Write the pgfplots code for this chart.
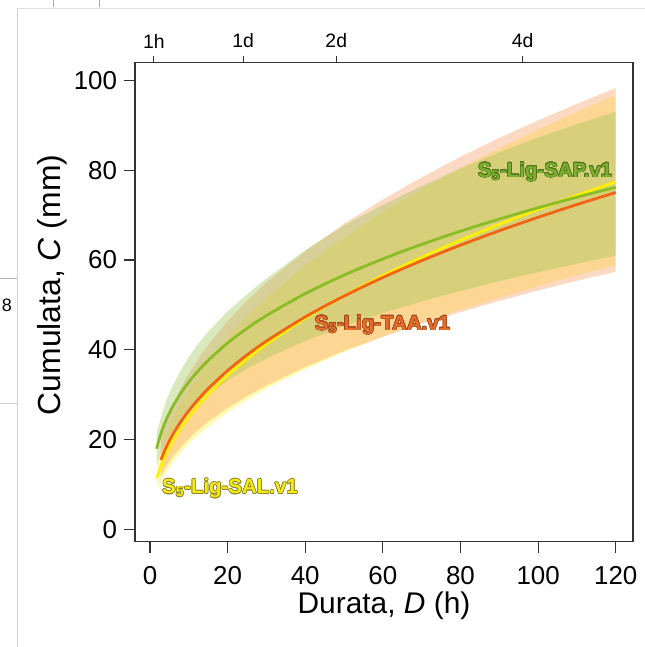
\documentclass[border=0pt]{standalone}
\usepackage{fontspec}
\setmainfont{Liberation Sans}
\usepackage{pgfplots}
\pgfplotsset{compat=1.18}
\usepackage{pgfplotstable}
\usepgfplotslibrary{fillbetween}
\usepackage{contour}
\contourlength{0.6pt}
\definecolor{axisgray}{RGB}{50,50,50}
\definecolor{gline}{RGB}{138,188,38}
\definecolor{oline}{RGB}{240,100,20}
\definecolor{yline}{RGB}{255,240,0}
\definecolor{gband}{RGB}{158,195,84}
\definecolor{oband}{RGB}{246,150,90}
\definecolor{yband}{RGB}{255,240,0}
\definecolor{gtext}{RGB}{125,175,45}
\definecolor{gout}{RGB}{75,115,30}
\definecolor{otext}{RGB}{230,110,40}
\definecolor{oout}{RGB}{160,70,30}
\definecolor{ytext}{RGB}{245,235,20}
\definecolor{yout}{RGB}{140,130,40}

\pgfplotstableread{
D m u l
1.7 18.00 21.1 14.4
2 19.02 22.3 15.2
3 21.83 25.5 17.5
4 24.06 28.2 19.2
5 25.95 30.4 20.8
6 27.61 32.3 22.1
8 30.44 35.6 24.4
10 32.83 38.4 26.3
12 34.92 40.9 27.9
15 37.66 44.1 30.1
20 41.52 48.6 33.2
25 44.79 52.4 35.8
30 47.64 55.9 38.1
40 52.52 62.2 42.0
50 56.65 67.7 45.3
60 60.26 72.3 48.2
70 63.49 76.5 50.8
80 66.43 80.4 53.1
90 69.14 84.0 55.3
100 71.65 87.3 57.3
110 74.01 90.3 59.2
120 76.22 93.0 61.0
}\sap

\pgfplotstableread{
D m u l
2.8 15.51 20.3 11.9
3 15.97 20.9 12.2
4 18.02 23.6 13.8
5 19.78 25.9 15.1
6 21.36 28.0 16.3
8 24.10 31.6 18.4
10 26.46 34.7 20.2
12 28.57 37.4 21.9
15 31.37 41.1 24.0
20 35.40 46.4 27.1
25 38.87 50.9 29.7
30 41.96 55.0 32.1
40 47.35 62.0 36.2
50 51.99 68.1 39.8
60 56.12 73.5 42.9
70 59.87 78.4 45.8
80 63.32 83.0 48.4
90 66.53 87.2 50.9
100 69.53 91.1 53.2
110 72.37 94.8 55.4
120 75.06 98.3 57.4
}\taa

\pgfplotstableread{
D m u l
1.9 11.80 14.8 9.0
2 12.08 15.1 9.2
3 14.52 18.2 11.0
4 16.54 20.7 12.6
5 18.31 22.9 13.9
6 19.88 24.9 15.1
8 22.66 28.3 17.2
10 25.07 31.3 19.1
12 27.23 34.0 20.7
15 30.14 37.7 22.9
20 34.33 42.9 26.1
25 37.99 47.5 28.9
30 41.27 51.6 31.4
40 47.03 58.8 35.7
50 52.03 65.0 39.5
60 56.52 70.7 43.0
70 60.61 75.8 46.1
80 64.40 80.5 48.9
90 67.94 84.9 51.6
100 71.27 89.1 54.2
110 74.41 93.0 56.6
120 77.41 96.8 58.8
}\sal

\begin{document}
\begin{tikzpicture}
\begin{axis}[
  scale only axis, width=498bp, height=479bp,
  xmin=-3.865, xmax=124.45, ymin=-2.72, ymax=103.96,
  axis on top,
  xtick={0,20,40,60,80,100,120}, ytick={0,20,40,60,80,100},
  xtick pos=left, ytick pos=left,
  tick align=outside, major tick length=11.5bp,
  tick style={line width=1.2bp, color=axisgray},
  axis line style={line width=1.3bp, color=axisgray},
  /pgf/number format/assume math mode=true,
  tick label style={font=\fontsize{26}{26}\selectfont, text=black},
  xticklabel style={yshift=-10bp},
  yticklabel style={xshift=-3bp},
  xlabel={Durata, \textit{D} (h)}, ylabel={Cumulata, \textit{C} (mm)},
  xlabel style={font=\fontsize{30}{30}\selectfont, text=black},
  ylabel style={font=\fontsize{32}{32}\selectfont, text=black, at={(ticklabel cs:0.536)}},
]
% bands
\addplot[name path=yu, draw=none, forget plot] table[x=D, y=u] {\sal};
\addplot[name path=yl, draw=none, forget plot] table[x=D, y=l] {\sal};
\addplot[yband, fill opacity=0.3, draw=none, forget plot] fill between[of=yu and yl];
\addplot[name path=ou, draw=none, forget plot] table[x=D, y=u] {\taa};
\addplot[name path=ol, draw=none, forget plot] table[x=D, y=l] {\taa};
\addplot[oband, fill opacity=0.36, draw=none, forget plot] fill between[of=ou and ol];
\addplot[name path=gu, draw=none, forget plot] table[x=D, y=u] {\sap};
\addplot[name path=gl, draw=none, forget plot] table[x=D, y=l] {\sap};
\addplot[gband, fill opacity=0.38, draw=none, forget plot] fill between[of=gu and gl];
% lines
\addplot[yline, line width=2.8bp, smooth] table[x=D, y=m] {\sal};
\addplot[oline, line width=2.8bp, smooth] table[x=D, y=m] {\taa};
\addplot[gline, line width=2.8bp, smooth] table[x=D, y=m] {\sap};
% labels
\node[font=\bfseries\fontsize{20.5}{20.5}\selectfont, text=gtext, inner sep=0pt] at (axis cs:101.8,79.6) {\contour{gout}{S\textsubscript{5}-Lig-SAP.v1}};
\node[font=\bfseries\fontsize{20.5}{20.5}\selectfont, text=otext, inner sep=0pt] at (axis cs:59.9,45.5) {\contour{oout}{S\textsubscript{5}-Lig-TAA.v1}};
\node[font=\bfseries\fontsize{20.5}{20.5}\selectfont, text=ytext, inner sep=0pt] at (axis cs:20.6,9.1) {\contour{yout}{S\textsubscript{5}-Lig-SAL.v1}};
\end{axis}
\begin{axis}[
  scale only axis, width=498bp, height=479bp,
  xmin=-3.865, xmax=124.45, ymin=-2.72, ymax=103.96,
  axis x line*=top, axis y line=none,
  xtick={1,24,48,96}, xticklabels={1h,1d,2d,4d},
  tick align=outside, major tick length=7bp,
  tick style={line width=1.1bp, color=axisgray},
  axis line style={line width=1.3bp, color=axisgray},
  tick label style={font=\fontsize{19.5}{19.5}\selectfont, text=black},
  xticklabel style={yshift=4bp},
]
\end{axis}
\coordinate (bl) at ([shift={(-135bp,-105.3bp)}]current axis.south west);
\coordinate (tr) at ([shift={(12bp,62.7bp)}]current axis.north east);
\pgfresetboundingbox
\path[use as bounding box] (bl) rectangle (tr);
% screenshot fragments around the chart
\draw[gray!25, line width=0.8bp] ([shift={(17bp,639bp)}]bl) -- ([shift={(645bp,639bp)}]bl);
\draw[gray!35, line width=0.8bp] ([shift={(17bp,639bp)}]bl) -- ([shift={(17bp,0bp)}]bl);
\draw[gray!70, line width=0.8bp] ([shift={(53bp,647bp)}]bl) -- ([shift={(53bp,640bp)}]bl);
\draw[gray!70, line width=0.8bp] ([shift={(99bp,647bp)}]bl) -- ([shift={(99bp,640bp)}]bl);
\draw[gray!60, line width=0.8bp] ([shift={(0bp,369bp)}]bl) -- ([shift={(17bp,369bp)}]bl);
\draw[gray!40, line width=0.8bp] ([shift={(0bp,244bp)}]bl) -- ([shift={(17bp,244bp)}]bl);
\node[anchor=east, font=\fontsize{18}{18}\selectfont, inner sep=0pt] at ([shift={(12bp,342bp)}]bl) {8};
\end{tikzpicture}
\end{document}
